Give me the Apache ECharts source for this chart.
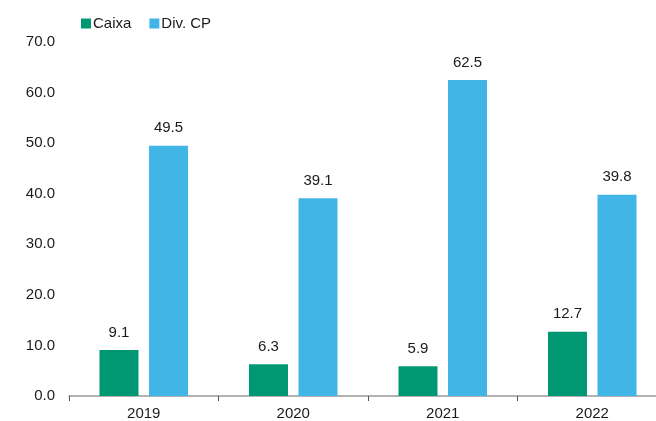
<!DOCTYPE html>
<html>
<head>
<meta charset="utf-8">
<script src="https://cdn.jsdelivr.net/npm/echarts@6/dist/echarts.min.js"></script>
<style>
  html, body { margin: 0; padding: 0; background: #fff; overflow: hidden; }
  #chart { width: 668px; height: 421px; }
</style>
</head>
<body>
<div id="chart"></div>
<script>
  // dados
  const anos = ['2019', '2020', '2021', '2022'];
  const caixa = [9.1, 6.3, 5.9, 12.7];
  const divCP = [49.5, 39.1, 62.5, 39.8];

  const chart = echarts.init(document.getElementById('chart'));
  const font = 'Liberation Sans, Arial, sans-serif';

  const label = {
    show: true,
    position: 'top',
    distance: 10,
    fontFamily: font,
    fontSize: 15,
    color: '#1a1a1a',
    formatter: p => p.value.toFixed(1)
  };

  chart.setOption({
    animation: false,
    textStyle: { fontFamily: font },
    legend: {
      left: 76,
      top: 11,
      itemWidth: 10,
      itemHeight: 10,
      itemGap: 18,
      icon: 'rect',
      textStyle: { fontSize: 15, color: '#1a1a1a', fontFamily: font, padding: [0, 0, 0, -3] },
      data: ['Caixa', 'Div. CP']
    },
    grid: { left: 69, top: 42, right: 1, bottom: 24 },
    xAxis: {
      type: 'category',
      data: anos,
      axisLine: { lineStyle: { color: '#999', width: 1.5 } },
      axisTick: { show: true, length: 5, lineStyle: { color: '#555' } },
      axisLabel: { fontSize: 15, color: '#1a1a1a', margin: 10 }
    },
    yAxis: {
      type: 'value',
      min: 0,
      max: 70,
      interval: 10,
      splitLine: { show: false },
      axisLine: { show: false },
      axisTick: { show: false },
      axisLabel: { fontSize: 15, color: '#1a1a1a', margin: 14, formatter: v => v.toFixed(1) }
    },
    series: [
      {
        name: 'Caixa',
        type: 'bar',
        data: caixa,
        barWidth: 39,
        barGap: '27%',
        itemStyle: { color: '#009873' },
        label: label
      },
      {
        name: 'Div. CP',
        type: 'bar',
        data: divCP,
        barWidth: 39,
        itemStyle: { color: '#41B5E6' },
        label: label
      }
    ]
  });
</script>
</body>
</html>
